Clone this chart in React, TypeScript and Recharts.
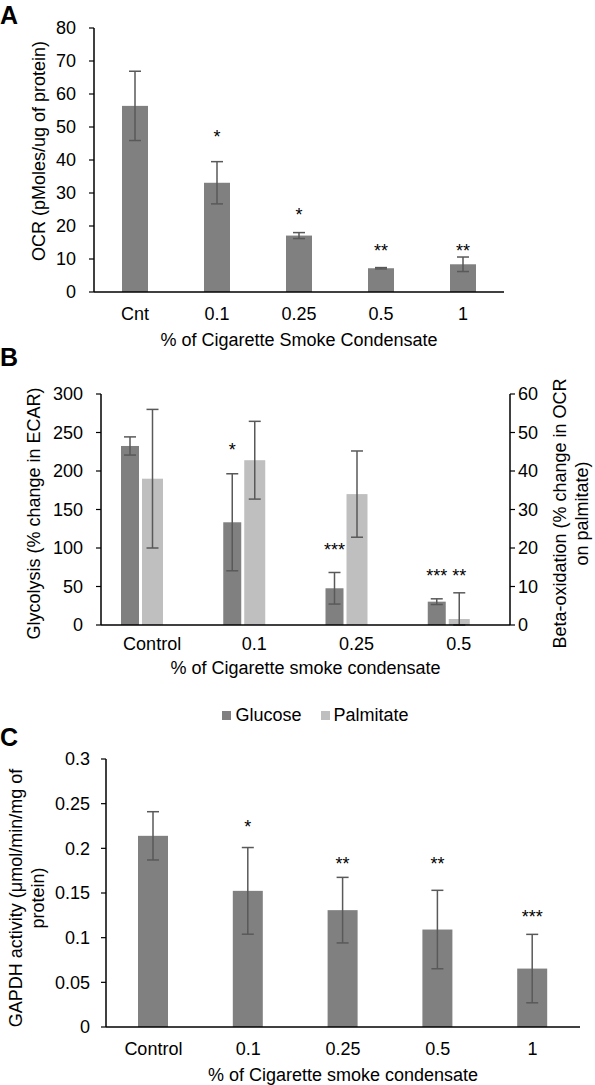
import React from 'react';
import { ComposedChart, Bar, XAxis, YAxis, ErrorBar, Legend, Label } from 'recharts';

const FONT = '"Liberation Sans", Arial, Helvetica, sans-serif';
const DARK = '#808080';
const LIGHT = '#bfbfbf';
const ERR = '#595959';
const FS = 18;

// ---------- Panel A ----------
const aCategories = ['Cnt', '0.1', '0.25', '0.5', '1'];
const aOCR = [56.4, 33.1, 17.1, 7.2, 8.4];
const aOCRErr = [10.5, 6.4, 0.9, 0.2, 2.2];
const aStars = ['', '*', '*', '**', '**'];
const aStarLevel = [0, 48.2, 24.8, 13.7, 13.7];
const aTicks = [0, 10, 20, 30, 40, 50, 60, 70, 80];

// ---------- Panel B ----------
const bCategories = ['Control', '0.1', '0.25', '0.5'];
const bGlucose = [232.5, 133.4, 47.7, 30.3];
const bGlucoseErr = [11.8, 63, 20.5, 3.7];
const bGlucoseStars = ['', '*', '***', '***'];
const bGlucoseStarLevel = [0, 232.9, 102.6, 70];
const bPalmitate = [38.0, 42.8, 34.0, 1.56];
const bPalmitateErrLow = [18, 10.1, 11.2, 1.56];
const bPalmitateErrHigh = [18, 10.1, 11.2, 6.8];
const bPalmitateStars = ['', '', '', '**'];
const bPalmitateStarLevel = [0, 0, 0, 14];
const bLeftTicks = [0, 50, 100, 150, 200, 250, 300];
const bRightTicks = [0, 10, 20, 30, 40, 50, 60];

// ---------- Panel C ----------
const cCategories = ['Control', '0.1', '0.25', '0.5', '1'];
const cGAPDH = [0.214, 0.1524, 0.1308, 0.1091, 0.0654];
const cGAPDHErr = [0.027, 0.0485, 0.0367, 0.0439, 0.0383];
const cStars = ['', '*', '**', '**', '***'];
const cStarLevel = [0, 0.2287, 0.188, 0.188, 0.128];
const cTicks = [0, 0.05, 0.1, 0.15, 0.2, 0.25, 0.3];

const aData = aCategories.map((cat, i) => ({
  cat,
  ocr: aOCR[i],
  ocrErr: aOCRErr[i],
  star: aStars[i],
  starLevel: aStarLevel[i],
}));

const bData = bCategories.map((cat, i) => ({
  cat,
  glucose: bGlucose[i],
  glucoseErr: bGlucoseErr[i],
  gStar: bGlucoseStars[i],
  gStarLevel: bGlucoseStarLevel[i],
  palmitate: bPalmitate[i],
  palmitateErr: [bPalmitateErrLow[i], bPalmitateErrHigh[i]],
  pStar: bPalmitateStars[i],
  pStarLevel: bPalmitateStarLevel[i],
  spacer: null as number | null,
}));

const cData = cCategories.map((cat, i) => ({
  cat,
  gapdh: cGAPDH[i],
  gapdhErr: cGAPDHErr[i],
  star: cStars[i],
  starLevel: cStarLevel[i],
}));

// Bar shape that also writes the significance stars, placed through the bar's own scale
function starBar(valueKey: string, starKey: string, levelKey: string) {
  return (props: any) => {
    const { x, y, width, height, fill, payload } = props;
    const v = payload ? payload[valueKey] : 0;
    const s = payload ? payload[starKey] : '';
    const lvl = payload ? payload[levelKey] : 0;
    let starEl = null;
    if (s && v > 0 && height > 0) {
      const base = y + height;
      const sy = base - (lvl * height) / v;
      starEl = (
        <text x={x + width / 2} y={sy + 10.5} textAnchor="middle" fontSize={18} fill="#000" fontFamily={FONT}>
          {s}
        </text>
      );
    }
    return (
      <g>
        <rect x={x} y={y} width={width} height={height} fill={fill} />
        {starEl}
      </g>
    );
  };
}

function vTitle(lines: { text: string; x: number }[], dy: number, fallbackCy: number) {
  return (props: any) => {
    const vb = props && props.viewBox;
    const cy = vb && typeof vb.y === 'number' ? vb.y + vb.height / 2 + dy : fallbackCy;
    return (
      <g>
        {lines.map((l, i) => (
          <text
            key={i}
            x={l.x}
            y={cy}
            transform={`rotate(-90 ${l.x} ${cy})`}
            textAnchor="middle"
            dominantBaseline="central"
            fontSize={FS}
            fill="#000"
            fontFamily={FONT}
          >
            {l.text}
          </text>
        ))}
      </g>
    );
  };
}

const tickStyle = { fill: '#000', fontSize: FS, fontFamily: FONT };
const axisLineStyle = { stroke: '#000', strokeWidth: 1.5 };
const tickLineStyle = { stroke: '#000', strokeWidth: 1.2 };

const renderLegend = (props: any) => {
  const items = (props.payload || []).filter((p: any) => p.type !== 'none');
  return (
    <div
      style={{
        display: 'flex',
        justifyContent: 'center',
        alignItems: 'center',
        gap: 19,
        fontSize: FS,
        color: '#000',
        fontFamily: FONT,
        paddingLeft: 36,
      }}
    >
      {items.map((p: any) => (
        <span key={p.value} style={{ display: 'flex', alignItems: 'center' }}>
          <span style={{ width: 9, height: 9, background: p.color, marginRight: 4, display: 'inline-block' }} />
          {p.value}
        </span>
      ))}
    </div>
  );
};

const letterStyle: React.CSSProperties = {
  position: 'absolute',
  left: 0,
  fontSize: 25,
  fontWeight: 'bold',
  fontFamily: FONT,
  lineHeight: '25px',
  color: '#000',
};

export default function App() {
  return (
    <div style={{ position: 'absolute', left: 0, top: 0, width: 595, height: 1085, background: '#fff', fontFamily: FONT, overflow: 'hidden' }}>
      {/* Panel A */}
      <div style={{ position: 'absolute', left: 0, top: 0 }}>
        <ComposedChart width={595} height={350} data={aData} margin={{ top: 28, right: 91, left: 0, bottom: 0 }}>
          <XAxis
            dataKey="cat"
            interval={0}
            height={58}
            axisLine={axisLineStyle}
            tickLine={false}
            tickSize={0}
            tickMargin={15}
            tick={tickStyle}
            label={{ value: '% of Cigarette Smoke Condensate', position: 'insideBottom', offset: 4, fill: '#000', fontSize: FS }}
          />
          <YAxis
            width={94}
            domain={[0, 80]}
            ticks={aTicks}
            allowDataOverflow
            axisLine={axisLineStyle}
            tickLine={tickLineStyle}
            tickSize={5}
            tickMargin={13}
            tick={tickStyle}
          >
            <Label content={vTitle([{ text: 'OCR (pMoles/ug of protein)', x: 39 }], -9, 151)} />
          </YAxis>
          <Bar dataKey="ocr" fill={DARK} barSize={26} isAnimationActive={false} shape={starBar('ocr', 'star', 'starLevel')}>
            <ErrorBar dataKey="ocrErr" width={6} stroke={ERR} strokeWidth={1.5} isAnimationActive={false} />
          </Bar>
        </ComposedChart>
      </div>

      {/* Panel B */}
      <div style={{ position: 'absolute', left: 0, top: 350 }}>
        <ComposedChart width={595} height={390} data={bData} margin={{ top: 44, right: 0, left: 0, bottom: 51 }} barGap={3}>
          <XAxis
            dataKey="cat"
            interval={0}
            height={64}
            axisLine={axisLineStyle}
            tickLine={false}
            tickSize={0}
            tickMargin={12}
            tick={tickStyle}
            label={{ value: '% of Cigarette smoke condensate', position: 'insideBottom', offset: 15, fill: '#000', fontSize: FS }}
          />
          <YAxis
            yAxisId="left"
            width={101}
            domain={[0, 300]}
            ticks={bLeftTicks}
            allowDataOverflow
            axisLine={axisLineStyle}
            tickLine={tickLineStyle}
            tickSize={5}
            tickMargin={13}
            tick={tickStyle}
          >
            <Label content={vTitle([{ text: 'Glycolysis (% change in ECAR)', x: 34 }], 4, 514)} />
          </YAxis>
          <YAxis
            yAxisId="right"
            orientation="right"
            width={85}
            domain={[0, 60]}
            ticks={bRightTicks}
            allowDataOverflow
            axisLine={axisLineStyle}
            tickLine={tickLineStyle}
            tickSize={5}
            tickMargin={3}
            tick={tickStyle}
          >
            <Label
              content={vTitle(
                [
                  { text: 'Beta-oxidation (% change in OCR', x: 560 },
                  { text: 'on palmitate)', x: 582 },
                ],
                4,
                514
              )}
            />
          </YAxis>
          <Legend
            verticalAlign="middle"
            align="center"
            layout="horizontal"
            content={renderLegend}
            wrapperStyle={{ top: 355, left: 0, width: 595 }}
          />
          <Bar
            yAxisId="left"
            dataKey="glucose"
            name="Glucose"
            fill={DARK}
            barSize={18}
            isAnimationActive={false}
            shape={starBar('glucose', 'gStar', 'gStarLevel')}
          >
            <ErrorBar dataKey="glucoseErr" width={6} stroke={ERR} strokeWidth={1.5} isAnimationActive={false} />
          </Bar>
          <Bar
            yAxisId="right"
            dataKey="palmitate"
            name="Palmitate"
            fill={LIGHT}
            barSize={21}
            isAnimationActive={false}
            shape={starBar('palmitate', 'pStar', 'pStarLevel')}
          >
            <ErrorBar dataKey="palmitateErr" width={6} stroke={ERR} strokeWidth={1.5} isAnimationActive={false} />
          </Bar>
          <Bar
            yAxisId="left"
            dataKey="spacer"
            name="spacer"
            fill="transparent"
            barSize={18}
            legendType="none"
            isAnimationActive={false}
          />
        </ComposedChart>
      </div>

      {/* Panel C */}
      <div style={{ position: 'absolute', left: 0, top: 740 }}>
        <ComposedChart width={595} height={345} data={cData} margin={{ top: 19, right: 15, left: 0, bottom: 0 }}>
          <XAxis
            dataKey="cat"
            interval={0}
            height={58}
            axisLine={axisLineStyle}
            tickLine={false}
            tickSize={0}
            tickMargin={15}
            tick={tickStyle}
            label={{ value: '% of Cigarette smoke condensate', position: 'insideBottom', offset: 4, fill: '#000', fontSize: FS }}
          />
          <YAxis
            width={106}
            domain={[0, 0.3]}
            ticks={cTicks}
            allowDataOverflow
            axisLine={axisLineStyle}
            tickLine={tickLineStyle}
            tickSize={5}
            tickMargin={11}
            tick={tickStyle}
          >
            <Label
              content={vTitle(
                [
                  { text: 'GAPDH activity (μmol/min/mg of', x: 16 },
                  { text: 'protein)', x: 38 },
                ],
                5,
                158
              )}
            />
          </YAxis>
          <Bar dataKey="gapdh" fill={DARK} barSize={30} isAnimationActive={false} shape={starBar('gapdh', 'star', 'starLevel')}>
            <ErrorBar dataKey="gapdhErr" width={6} stroke={ERR} strokeWidth={1.5} isAnimationActive={false} />
          </Bar>
        </ComposedChart>
      </div>

      {/* Panel letters */}
      <div style={{ ...letterStyle, top: 3 }}>A</div>
      <div style={{ ...letterStyle, top: 345 }}>B</div>
      <div style={{ ...letterStyle, top: 725 }}>C</div>
    </div>
  );
}
